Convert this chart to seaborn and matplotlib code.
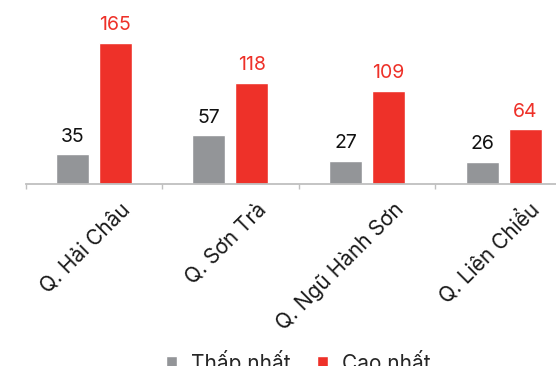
import matplotlib
matplotlib.use("Agg")
import matplotlib.pyplot as plt
import matplotlib.transforms as mtransforms
import seaborn as sns
import pandas as pd
from matplotlib.ticker import FixedLocator

# ---- data ----
districts = ["Q. Hải Châu", "Q. Sơn Trà", "Q. Ngũ Hành Sơn", "Q. Liên Chiểu"]
series_names = ["Thấp nhất", "Cao nhất"]
low_values = [35, 57, 27, 26]
high_values = [165, 118, 109, 64]

GRAY = "#939598"
RED = "#EE3129"

sns.set_theme(style="white")
plt.rcParams["font.family"] = ["Inter", "DejaVu Sans"]

df = pd.DataFrame({
    "district": districts * 2,
    "series": [series_names[0]] * 4 + [series_names[1]] * 4,
    "value": low_values + high_values,
})

W, H = 556, 366
fig = plt.figure(figsize=(W / 100, H / 100), dpi=100)
ax_left, ax_right, ax_base = 25.5, 572.0, 184.0
ax = fig.add_axes([ax_left / W, (H - ax_base) / H, (ax_right - ax_left) / W, ax_base / H])

sns.barplot(data=df, x="district", y="value", hue="series",
            palette=[GRAY, RED], width=0.63, gap=0.235, ax=ax,
            saturation=1, legend=True)

ax.set_ylim(0, 214.7)
ax.set_xlim(-0.5, 3.5)
ax.set_xlabel("")
ax.set_ylabel("")
ax.set_yticks([])
for s in ["top", "right", "left"]:
    ax.spines[s].set_visible(False)
ax.spines["bottom"].set_color("#BFBFBF")
ax.spines["bottom"].set_linewidth(1.3)

ax.set_xticks(range(len(districts)))
ax.set_xticklabels(districts, rotation=45, ha="right", va="center",
                   rotation_mode="anchor", fontsize=15, color="#1a1a1a")
ax.tick_params(axis="x", which="major", length=0, pad=16)
offset = mtransforms.ScaledTranslation(0.33, 0, fig.dpi_scale_trans)
for lab in ax.get_xticklabels():
    lab.set_transform(lab.get_transform() + offset)
ax.xaxis.set_minor_locator(FixedLocator([-0.5, 0.5, 1.5, 2.5, 3.5]))
ax.tick_params(axis="x", which="minor", length=3.5, width=1, color="#BFBFBF",
               direction="out", bottom=True)

label_colors = ["#111111", RED]
for cont, col in zip(ax.containers, label_colors):
    for bar, v in zip(cont, cont.datavalues):
        ax.annotate(f"{int(v)}", (bar.get_x() + bar.get_width() / 2, v),
                    xytext=(0, 9), textcoords="offset points",
                    ha="center", va="baseline", fontsize=14, color=col)

handles, labels = ax.get_legend_handles_labels()
ax.get_legend().remove()
fig.legend(handles, labels, loc="center", bbox_to_anchor=(298 / W, (H - 362) / H),
           ncol=2, frameon=False, fontsize=15, handlelength=0.53, handleheight=0.53,
           handletextpad=0.67, columnspacing=1.25)

fig.savefig("out.png", dpi=100)
